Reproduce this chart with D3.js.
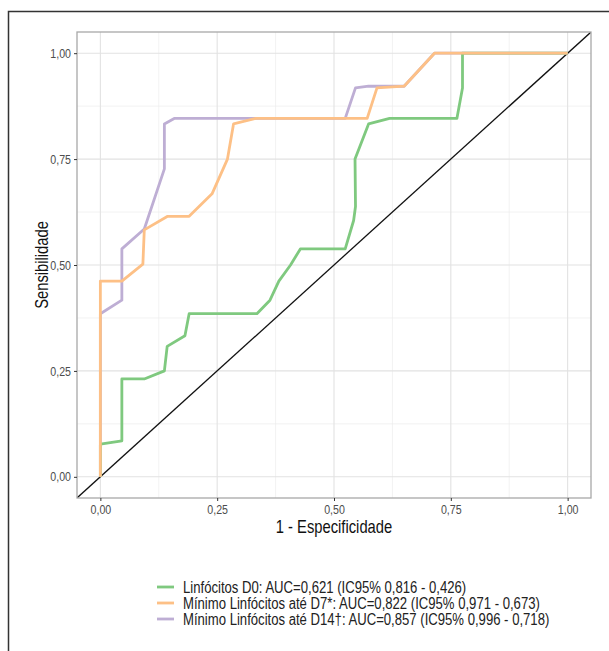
<!DOCTYPE html>
<html>
<head>
<meta charset="utf-8">
<script src="https://cdn.jsdelivr.net/npm/d3@7"></script>
<style>
  html, body { margin: 0; padding: 0; background: #fff; }
  svg { display: block; font-family: "Liberation Sans", Arial, sans-serif; }
</style>
</head>
<body>
<div id="chart"></div>
<script>
// ROC points: [1 - especificidade, sensibilidade]
var linfD0 = [[0, 0], [0, 0.077], [0.046, 0.085], [0.046, 0.231], [0.094, 0.231], [0.137, 0.25],
  [0.143, 0.308], [0.181, 0.333], [0.19, 0.385], [0.335, 0.385], [0.363, 0.417], [0.382, 0.462],
  [0.407, 0.5], [0.428, 0.538], [0.524, 0.538], [0.542, 0.605], [0.546, 0.638], [0.545, 0.75],
  [0.574, 0.833], [0.619, 0.846], [0.763, 0.846], [0.775, 0.918], [0.775, 1], [1, 1]];
var minD7 = [[0, 0], [0, 0.462], [0.046, 0.462], [0.091, 0.502], [0.094, 0.583], [0.144, 0.615],
  [0.19, 0.615], [0.239, 0.668], [0.272, 0.75], [0.285, 0.833], [0.333, 0.846], [0.571, 0.846],
  [0.592, 0.918], [0.65, 0.922], [0.715, 1], [1, 1]];
var minD14 = [[0, 0], [0, 0.385], [0.046, 0.417], [0.046, 0.538], [0.094, 0.585], [0.137, 0.727],
  [0.137, 0.833], [0.158, 0.846], [0.524, 0.846], [0.546, 0.918], [0.574, 0.922], [0.65, 0.922],
  [0.715, 1], [1, 1]];

var seriesNames = [
  'Linfócitos D0: AUC=0,621 (IC95% 0,816 - 0,426)',
  'Mínimo Linfócitos até D7*: AUC=0,822 (IC95% 0,971 - 0,673)',
  'Mínimo Linfócitos até D14\u2020: AUC=0,857 (IC95% 0,996 - 0,718)'
];
var seriesColors = ['#7fc97f', '#fdc086', '#beaed4'];
var ticks = [0, 0.25, 0.5, 0.75, 1];
var minorTicks = [0.125, 0.375, 0.625, 0.875];

var width = 609, height = 651;
var narrow = 0.82; // squeeze Liberation Sans to look like Arial Narrow

var svg = d3.select('#chart').append('svg')
  .attr('width', width)
  .attr('height', height);

// outer frame (only left and top visible in the crop)
svg.append('path')
  .attr('d', 'M8.5,651V11.5H609')
  .attr('fill', 'none')
  .attr('stroke', '#333')
  .attr('stroke-width', 1.5);

var panel = { left: 77, top: 32, right: 591, bottom: 498 };

var x = d3.scaleLinear().domain([-0.05, 1.05]).range([panel.left, panel.right]);
var y = d3.scaleLinear().domain([-0.05, 1.05]).range([panel.bottom, panel.top]);

var fmt = function (d) { return d3.format('.2f')(d).replace('.', ','); };

// grid
var grid = svg.append('g');
grid.selectAll('.minx').data(minorTicks).join('line')
  .attr('x1', x).attr('x2', x).attr('y1', panel.top).attr('y2', panel.bottom)
  .attr('stroke', '#ececec').attr('stroke-width', 0.7);
grid.selectAll('.miny').data(minorTicks).join('line')
  .attr('y1', y).attr('y2', y).attr('x1', panel.left).attr('x2', panel.right)
  .attr('stroke', '#ececec').attr('stroke-width', 0.7);
grid.selectAll('.majx').data(ticks).join('line')
  .attr('x1', x).attr('x2', x).attr('y1', panel.top).attr('y2', panel.bottom)
  .attr('stroke', '#e2e2e2').attr('stroke-width', 1.1);
grid.selectAll('.majy').data(ticks).join('line')
  .attr('y1', y).attr('y2', y).attr('x1', panel.left).attr('x2', panel.right)
  .attr('stroke', '#e2e2e2').attr('stroke-width', 1.1);

// clip to panel
svg.append('clipPath').attr('id', 'clip')
  .append('rect')
  .attr('x', panel.left).attr('y', panel.top)
  .attr('width', panel.right - panel.left).attr('height', panel.bottom - panel.top);

var plot = svg.append('g').attr('clip-path', 'url(#clip)');

// reference diagonal
plot.append('line')
  .attr('x1', x(-0.05)).attr('y1', y(-0.05))
  .attr('x2', x(1.05)).attr('y2', y(1.05))
  .attr('stroke', '#111').attr('stroke-width', 1.3);

var line = d3.line()
  .x(function (d) { return x(d[0]); })
  .y(function (d) { return y(d[1]); });

// purple and green first, orange on top
[[minD14, 2], [linfD0, 0], [minD7, 1]].forEach(function (s) {
  plot.append('path')
    .datum(s[0])
    .attr('d', line)
    .attr('fill', 'none')
    .attr('stroke', seriesColors[s[1]])
    .attr('stroke-width', 2.8)
    .attr('stroke-linejoin', 'round');
});

// panel border
svg.append('rect')
  .attr('x', panel.left).attr('y', panel.top)
  .attr('width', panel.right - panel.left).attr('height', panel.bottom - panel.top)
  .attr('fill', 'none').attr('stroke', '#a8a8a8').attr('stroke-width', 1.3);

// axes
var xAxis = svg.append('g')
  .attr('transform', 'translate(0,' + panel.bottom + ')')
  .call(d3.axisBottom(x).tickValues(ticks).tickFormat(fmt).tickSize(3).tickPadding(4));
var yAxis = svg.append('g')
  .attr('transform', 'translate(' + panel.left + ',0)')
  .call(d3.axisLeft(y).tickValues(ticks).tickFormat(fmt).tickSize(3).tickPadding(3));
[xAxis, yAxis].forEach(function (a) {
  a.select('.domain').remove();
  a.selectAll('.tick line').attr('stroke', '#333').attr('stroke-width', 1);
  a.selectAll('.tick text').attr('fill', '#4d4d4d').attr('font-size', 13)
    .attr('font-family', 'inherit');
});
xAxis.selectAll('.tick text').attr('transform', 'scale(' + narrow + ',1)');
yAxis.selectAll('.tick text')
  .attr('x', -6 / narrow)
  .attr('transform', 'scale(' + narrow + ',1)');

svg.append('text')
  .attr('transform', 'translate(' + x(0.5) + ',533) scale(' + narrow + ',1)')
  .attr('text-anchor', 'middle')
  .attr('font-size', 18)
  .attr('fill', '#111')
  .text('1 - Especificidade');

svg.append('text')
  .attr('transform', 'translate(42,' + y(0.5) + ') rotate(-90) scale(' + narrow + ',1)')
  .attr('text-anchor', 'middle')
  .attr('dy', '0.35em')
  .attr('font-size', 18)
  .attr('fill', '#111')
  .text('Sensibilidade');

// legend
var legend = svg.append('g');
var rows = legend.selectAll('g').data(seriesNames).join('g')
  .attr('transform', function (d, i) { return 'translate(157,' + (587 + i * 16) + ')'; });
rows.append('line')
  .attr('x1', 0).attr('x2', 17)
  .attr('stroke', function (d, i) { return seriesColors[i]; })
  .attr('stroke-width', 2.8);
rows.append('text')
  .attr('transform', 'translate(26,0) scale(' + narrow + ',1)')
  .attr('dy', '0.35em')
  .attr('font-size', 16)
  .attr('fill', '#222')
  .text(function (d) { return d; });
</script>
</body>
</html>
